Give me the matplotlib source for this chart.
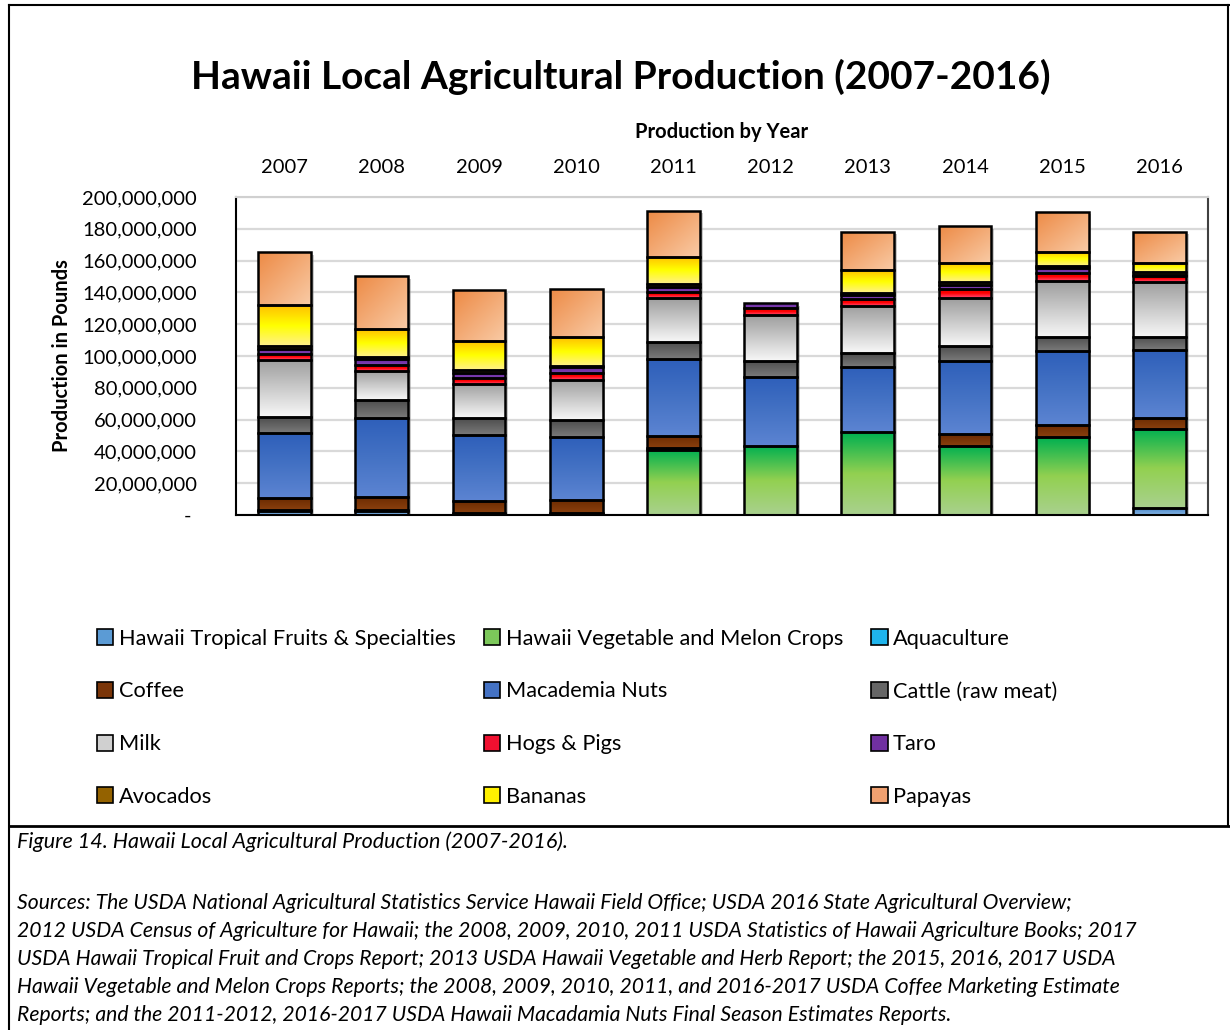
import numpy as np
import matplotlib
matplotlib.use("Agg")
import matplotlib.pyplot as plt
from matplotlib.colors import to_rgb
from matplotlib.patches import Patch
from matplotlib.lines import Line2D
from matplotlib.ticker import FuncFormatter
import matplotlib.patheffects as pe

plt.rcParams['font.family'] = ['Lato', 'DejaVu Sans']

# values, in millions of pounds
years = ['2007', '2008', '2009', '2010', '2011', '2012', '2013', '2014', '2015', '2016']
tropical = [2.5, 2.5, 0.6, 0.6, 0, 0, 0, 0, 0, 4.2]
vegetable = [0, 0, 0, 0, 41.0, 43.4, 52.0, 43.4, 48.9, 49.7]
aquaculture = [0.8, 0.6, 0.5, 0.5, 0.9, 0, 0, 0, 0, 0]
coffee = [7.5, 8.4, 8.0, 8.3, 7.8, 0, 0, 7.4, 7.7, 7.3]
macadamia = [40.7, 49.7, 41.5, 39.8, 48.2, 43.6, 41.3, 46.1, 46.5, 42.6]
cattle = [10.0, 11.1, 10.5, 10.5, 11.1, 10.1, 8.8, 9.4, 9.0, 8.3]
milk = [36.1, 18.5, 21.4, 25.2, 27.3, 28.7, 29.6, 30.0, 35.1, 34.6]
hogs = [3.8, 3.5, 3.6, 4.6, 4.0, 4.2, 4.0, 5.8, 5.2, 3.8]
taro = [3.1, 3.6, 3.3, 3.4, 3.3, 3.1, 2.7, 2.6, 2.7, 0.6]
avocados = [2.1, 1.7, 1.5, 1.0, 1.7, 0, 1.4, 1.6, 1.5, 1.5]
bananas = [25.2, 17.2, 18.4, 17.8, 17.2, 0, 14.3, 12.0, 9.0, 5.9]
papayas = [33.5, 33.5, 31.9, 30.2, 28.9, 0, 24.1, 23.5, 25.2, 19.7]

labels = ['Hawaii Tropical Fruits & Specialties', 'Hawaii Vegetable and Melon Crops',
          'Aquaculture', 'Coffee', 'Macademia Nuts', 'Cattle (raw meat)', 'Milk',
          'Hogs & Pigs', 'Taro', 'Avocados', 'Bananas', 'Papayas']
series = [tropical, vegetable, aquaculture, coffee, macadamia, cattle, milk,
          hogs, taro, avocados, bananas, papayas]

# gradient stops, top -> bottom (papayas is diagonal)
stops = [['#4A86C8', '#86B6E4'],
         ['#00B050', '#92D050', '#A9D18E'],
         ['#0090D0', '#45CBF8'],
         ['#6B2A00', '#8A400E'],
         ['#2E5FBA', '#4472C4', '#5C84D2'],
         ['#4D4D4D', '#7A7A7A'],
         ['#9E9E9E', '#F7F7F7'],
         ['#E00000', '#FF0000', '#FF4A78'],
         ['#66289A', '#8040B4'],
         ['#7F5200', '#A87A00'],
         ['#FFC000', '#FFFF00', '#FFF08A'],
         ['#ED8A45', '#F9CBA6']]
legend_colors = ['#5B9BD5', '#7CC85A', '#1FB4EC', '#7A3508', '#4472C4', '#666666',
                 '#D0D0D0', '#F01030', '#7030A0', '#946200', '#FFF000', '#F0A070']


def ramp(cols, n=64):
    rgb = np.array([to_rgb(c) for c in cols])
    pos = np.linspace(0, 1, len(cols))
    t = np.linspace(0, 1, n)
    return np.stack([np.interp(t, pos, rgb[:, k]) for k in range(3)], axis=-1)


W, H = 1230, 1030
fig = plt.figure(figsize=(W / 100, H / 100), dpi=100)


def fx(px):
    return px / W


def fy(py):
    return 1 - py / H


ax = fig.add_axes([fx(236), fy(515), fx(1208) - fx(236), fy(197) - fy(515)])

x = np.arange(len(years))
bw = 0.545
bottom = np.zeros(len(years))
for i, vals in enumerate(series):
    v = np.array(vals) * 1e6
    base = ax.bar(x, v, bw, bottom=bottom, color=legend_colors[i], edgecolor='none', zorder=2)
    for p in base:
        if p.get_height() <= 0:
            continue
        px0, py0, pw, ph = p.get_x(), p.get_y(), p.get_width(), p.get_height()
        if i == len(series) - 1:
            g = ramp(stops[i], 64)
            ii, jj = np.meshgrid(np.arange(64), np.arange(64), indexing='ij')
            img = g[((ii + jj) / 2).astype(int)]
        else:
            img = ramp(stops[i], 64)[:, None, :]
        im = ax.imshow(img, extent=[px0, px0 + pw, py0, py0 + ph], origin='upper',
                       aspect='auto', zorder=2.5, interpolation='bilinear')
        im.set_clip_path(p)
    lws = np.where(v > 0, 1.8, 0)
    ax.bar(x, v, bw, bottom=bottom, fill=False, edgecolor='black', linewidth=lws, zorder=3)
    bottom += v

# soft shadow behind each stack
shadow = ax.bar(x, bottom, bw, color='white', edgecolor='none', zorder=1.5)
for p in shadow:
    p.set_path_effects([pe.SimplePatchShadow(offset=(2, -2), shadow_rgbFace='#888888', alpha=0.45)])

ax.set_xlim(-0.5, len(years) - 0.5)
ax.set_ylim(0, 200e6)
ax.set_yticks(np.arange(0, 200e6 + 1, 20e6))
ax.yaxis.set_major_formatter(FuncFormatter(lambda v, p: '- ' if v == 0 else f'{v:,.0f}'))
ax.grid(axis='y', color='#D9D9D9', linewidth=1.6, zorder=0)
ax.set_axisbelow(True)
ax.tick_params(axis='y', length=0, pad=28, labelsize=14.5, labelcolor='black')
ax.xaxis.tick_top()
ax.set_xticks(x)
ax.set_xticklabels(years)
ax.tick_params(axis='x', length=0, pad=15, labelsize=14.5)
ax.spines['left'].set_color('black')
ax.spines['left'].set_linewidth(1.5)
ax.spines['bottom'].set_color('black')
ax.spines['bottom'].set_linewidth(1.5)
ax.spines['top'].set_color('#D0D0D0')
ax.spines['top'].set_linewidth(1.5)
ax.spines['right'].set_color('#404040')
ax.spines['right'].set_linewidth(1.5)

fig.text(fx(621), fy(77), 'Hawaii Local Agricultural Production (2007-2016)',
         ha='center', va='center', fontsize=28, fontweight='bold')
fig.text(fx(722), fy(132), 'Production by Year', ha='center', va='center',
         fontsize=14.5, fontweight='bold')
fig.text(fx(62), fy(356), 'Production in Pounds', ha='center', va='center',
         rotation=90, fontsize=14.5, fontweight='bold')

# legend, filled row by row like the original
order = [0, 3, 6, 9, 1, 4, 7, 10, 2, 5, 8, 11]
handles = [Patch(facecolor=legend_colors[k], edgecolor='black', linewidth=1.2) for k in order]
leg = fig.legend(handles, [labels[k] for k in order], ncol=3, loc='upper left',
                 bbox_to_anchor=(fx(88), fy(620)), frameon=False, fontsize=15.7,
                 handlelength=0.75, handleheight=0.75, handletextpad=0.25,
                 labelspacing=1.5, columnspacing=1.3, borderaxespad=0)

# outer boxes
fig.add_artist(Line2D([fx(9), fx(9)], [fy(5), 0], color='black', lw=1.5))
fig.add_artist(Line2D([fx(9), 1], [fy(5), fy(5)], color='black', lw=1.5))
fig.add_artist(Line2D([fx(1228), fx(1228)], [fy(5), fy(826)], color='black', lw=1.5))
fig.add_artist(Line2D([fx(9), 1], [fy(826), fy(826)], color='black', lw=2))

fig.text(fx(17), fy(842), 'Figure 14. Hawaii Local Agricultural Production (2007-2016).',
         ha='left', va='center', fontsize=15.5, style='italic')
sources = ('Sources: The USDA National Agricultural Statistics Service Hawaii Field Office; USDA 2016 State Agricultural Overview;\n'
           '2012 USDA Census of Agriculture for Hawaii; the 2008, 2009, 2010, 2011 USDA Statistics of Hawaii Agriculture Books; 2017\n'
           'USDA Hawaii Tropical Fruit and Crops Report; 2013 USDA Hawaii Vegetable and Herb Report; the 2015, 2016, 2017 USDA\n'
           'Hawaii Vegetable and Melon Crops Reports; the 2008, 2009, 2010, 2011, and 2016-2017 USDA Coffee Marketing Estimate\n'
           'Reports; and the 2011-2012, 2016-2017 USDA Hawaii Macadamia Nuts Final Season Estimates Reports.')
fig.text(fx(17), fy(893), sources, ha='left', va='top', fontsize=15.2, style='italic',
         linespacing=1.5)

fig.savefig('out.png', dpi=100)
